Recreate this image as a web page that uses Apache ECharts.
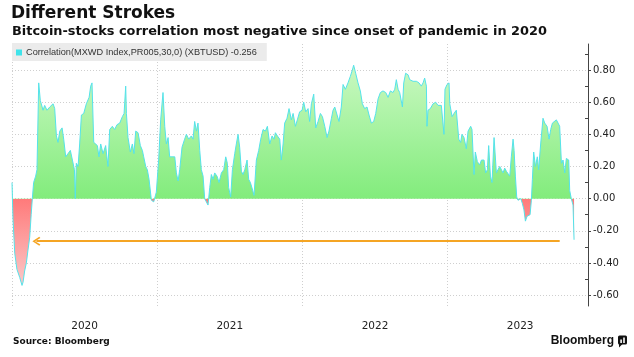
<!DOCTYPE html>
<html><head><meta charset="utf-8">
<script src="https://cdn.jsdelivr.net/npm/echarts@6/dist/echarts.min.js"></script>
<style>html,body{margin:0;padding:0;background:#fff}#c{width:634px;height:357px}</style>
</head><body><div id="c"></div>
<script>
// ---- data (decimal years, 30-day correlation) ----
const dates2020 = [2020.000,2020.003,2020.007,2020.019,2020.034,2020.053,2020.069,2020.076,2020.087,2020.099,2020.110,2020.122,2020.132,2020.140,2020.149,2020.163,2020.172,2020.184,2020.195,2020.214,2020.225,2020.241,2020.260,2020.283,2020.294,2020.306,2020.317,2020.329,2020.345,2020.356,2020.370,2020.386,2020.402,2020.416,2020.430,2020.436,2020.443,2020.455,2020.466,2020.478,2020.494,2020.512,2020.531,2020.542,2020.551,2020.563,2020.576,2020.588,2020.599,2020.611,2020.627,2020.645,2020.661,2020.673,2020.691,2020.707,2020.723,2020.742,2020.760,2020.772,2020.783,2020.788,2020.799,2020.815,2020.829,2020.840,2020.852,2020.868,2020.884,2020.898,2020.907,2020.921,2020.932,2020.944,2020.960,2020.976,2020.994];
const corr2020 = [0.10,0.00,-0.13,-0.34,-0.44,-0.49,-0.54,-0.52,-0.45,-0.40,-0.32,-0.24,-0.10,0.00,0.10,0.14,0.18,0.72,0.61,0.55,0.58,0.55,0.57,0.59,0.56,0.39,0.35,0.42,0.44,0.37,0.26,0.28,0.30,0.24,0.18,0.00,0.22,0.20,0.34,0.52,0.53,0.59,0.63,0.70,0.72,0.35,0.35,0.33,0.26,0.34,0.28,0.33,0.20,0.43,0.45,0.43,0.46,0.47,0.51,0.53,0.70,0.53,0.38,0.29,0.34,0.28,0.42,0.41,0.33,0.30,0.26,0.20,0.18,0.12,-0.01,-0.02,0.04];
const dates2021 = [2021.010,2021.024,2021.040,2021.052,2021.063,2021.075,2021.086,2021.102,2021.121,2021.132,2021.144,2021.155,2021.171,2021.189,2021.201,2021.217,2021.235,2021.247,2021.258,2021.270,2021.281,2021.293,2021.304,2021.316,2021.327,2021.339,2021.350,2021.362,2021.373,2021.385,2021.396,2021.412,2021.426,2021.442,2021.458,2021.472,2021.483,2021.492,2021.506,2021.518,2021.534,2021.545,2021.557,2021.568,2021.580,2021.591,2021.603,2021.619,2021.630,2021.642,2021.655,2021.667,2021.683,2021.699,2021.713,2021.729,2021.745,2021.759,2021.775,2021.791,2021.805,2021.814,2021.828,2021.844,2021.855,2021.867,2021.878,2021.894,2021.908,2021.924,2021.936,2021.952,2021.965,2021.981,2021.998];
const corr2021 = [0.24,0.49,0.66,0.45,0.34,0.38,0.26,0.26,0.26,0.16,0.11,0.18,0.32,0.37,0.40,0.37,0.39,0.37,0.48,0.42,0.47,0.30,0.18,0.14,0.00,-0.01,-0.04,0.07,0.15,0.12,0.16,0.14,0.10,0.16,0.18,0.26,0.22,0.07,0.01,0.18,0.28,0.34,0.40,0.32,0.17,0.15,0.18,0.24,0.12,0.10,0.06,0.02,0.24,0.30,0.37,0.43,0.42,0.45,0.34,0.39,0.37,0.41,0.39,0.37,0.24,0.34,0.47,0.50,0.56,0.49,0.53,0.45,0.49,0.54,0.55];
const dates2022 = [2022.009,2022.023,2022.039,2022.050,2022.062,2022.078,2022.092,2022.108,2022.124,2022.138,2022.154,2022.170,2022.183,2022.200,2022.211,2022.223,2022.239,2022.252,2022.268,2022.280,2022.296,2022.314,2022.330,2022.344,2022.353,2022.367,2022.383,2022.399,2022.413,2022.429,2022.445,2022.459,2022.475,2022.491,2022.505,2022.521,2022.537,2022.555,2022.574,2022.590,2022.606,2022.624,2022.636,2022.647,2022.659,2022.670,2022.689,2022.698,2022.711,2022.728,2022.739,2022.762,2022.785,2022.803,2022.819,2022.831,2022.842,2022.854,2022.858,2022.865,2022.881,2022.900,2022.918,2022.934,2022.957,2022.969,2022.975,2022.982,2022.996];
const corr2022 = [0.60,0.54,0.56,0.48,0.59,0.65,0.44,0.48,0.53,0.51,0.45,0.38,0.42,0.50,0.55,0.57,0.52,0.48,0.57,0.71,0.68,0.72,0.76,0.80,0.83,0.78,0.72,0.67,0.59,0.56,0.57,0.52,0.47,0.48,0.53,0.62,0.66,0.67,0.66,0.63,0.67,0.66,0.68,0.74,0.68,0.66,0.57,0.72,0.78,0.77,0.74,0.73,0.73,0.72,0.70,0.72,0.75,0.70,0.45,0.55,0.56,0.59,0.60,0.58,0.58,0.59,0.40,0.68,0.71];
const dates2023 = [2023.010,2023.015,2023.031,2023.044,2023.060,2023.077,2023.090,2023.099,2023.113,2023.129,2023.141,2023.159,2023.168,2023.182,2023.191,2023.205,2023.221,2023.233,2023.251,2023.262,2023.274,2023.283,2023.295,2023.306,2023.320,2023.329,2023.336,2023.347,2023.359,2023.370,2023.382,2023.393,2023.405,2023.416,2023.428,2023.439,2023.451,2023.458,2023.467,2023.476,2023.485,2023.504,2023.515,2023.526,2023.536,2023.547,2023.559,2023.568,2023.577,2023.584,2023.593,2023.605,2023.618,2023.627,2023.641,2023.657,2023.669,2023.685,2023.699,2023.710,2023.722,2023.733,2023.749,2023.761,2023.772,2023.784,2023.795,2023.807,2023.818,2023.834,2023.841,2023.852,2023.864,2023.871];
const corr2023 = [0.72,0.59,0.51,0.53,0.55,0.37,0.35,0.40,0.38,0.31,0.42,0.45,0.43,0.15,0.29,0.23,0.21,0.24,0.24,0.16,0.18,0.33,0.14,0.10,0.38,0.38,0.16,0.18,0.20,0.20,0.16,0.19,0.17,0.18,0.14,0.26,0.37,0.30,0.14,0.01,-0.01,0.00,-0.03,-0.07,-0.14,-0.11,-0.11,-0.10,-0.01,0.12,0.29,0.20,0.26,0.18,0.34,0.50,0.47,0.45,0.37,0.43,0.47,0.48,0.49,0.47,0.45,0.22,0.24,0.16,0.25,0.24,0.05,0.00,-0.04,-0.256];

const yTickValues = [-0.6,-0.4,-0.2,0,0.2,0.4,0.6,0.8];
const yMinorTickValues = [-0.5,-0.3,-0.1,0.1,0.3,0.5,0.7,0.9];
const yearBoundaries = [2020,2021,2022,2023];
const yearLabelValues = [2020.5,2021.5,2022.5,2023.5];
const arrowLevel = -0.265, arrowStart = 2023.772, arrowEnd = 2020.168;

// ---- build ----
const allDates = [].concat(dates2020, dates2021, dates2022, dates2023);
const allCorr = [].concat(corr2020, corr2021, corr2022, corr2023);
const seriesData = allDates.map((d, i) => [d, allCorr[i]]);
const vMax = Math.max.apply(null, allCorr), vMin = Math.min.apply(null, allCorr);
const zeroStop = vMax / (vMax - vMin);
const lastVal = allCorr[allCorr.length - 1];
const seriesName = 'Correlation(MXWD Index,PR005,30,0) (XBTUSD) ' + lastVal.toFixed(3);

const yMin = -0.668, yMax = 0.962;
const chevron = 'path://M5,0 L10,8.6 L8.6,10 L5,3.4 L1.4,10 L0,8.6 Z';
const gridLine = {color:'#cfcfcf', type:[1,2], width:1};

const chart = echarts.init(document.getElementById('c'), null, {renderer:'canvas'});
chart.setOption({
  animation:false,
  backgroundColor:'#ffffff',
  grid:{left:12, right:46, top:44, bottom:51, containLabel:false},
  legend:{
    left:12, top:43, padding:[5,10,4,4], backgroundColor:'#ebebeb',
    icon:'rect', itemWidth:6, itemHeight:6, itemGap:0, selectedMode:false,
    textStyle:{fontSize:9.2, color:'#333', fontFamily:'Liberation Sans', padding:[0,0,0,-1]},
    data:[{name:seriesName, itemStyle:{color:'#3fe3ea'}}]
  },
  xAxis:{
    type:'value', min:2020, max:2023.967,
    axisLine:{show:false},
    axisTick:{show:false, customValues:yearBoundaries},
    axisLabel:{customValues:yearLabelValues, formatter:v=>String(Math.floor(v)), color:'#222', fontSize:10.5, fontFamily:'DejaVu Sans', margin:15},
    splitLine:{show:true, lineStyle:gridLine}
  },
  yAxis:[{
    type:'value', position:'right', min:yMin, max:yMax,
    axisLine:{show:true, lineStyle:{color:'#444', width:1}},
    axisTick:{show:true, customValues:yTickValues, length:3, inside:false, lineStyle:{color:'#444'}},
    axisLabel:{customValues:yTickValues, formatter:v=>v.toFixed(2), color:'#222', fontSize:10, fontFamily:'DejaVu Sans', margin:5},
    splitLine:{show:true, lineStyle:gridLine}
  },{
    type:'value', position:'right', min:yMin, max:yMax,
    axisLine:{show:false},
    axisTick:{show:true, customValues:yMinorTickValues, length:3, inside:true, lineStyle:{color:'#444'}},
    axisLabel:{show:false}, splitLine:{show:false}
  }],
  series:[{
    type:'line', name:seriesName, data:seriesData, yAxisIndex:0,
    showSymbol:false, symbol:'none', smooth:false,
    lineStyle:{color:'#55e3ea', width:1},
    itemStyle:{color:'#3fe3ea'},
    areaStyle:{opacity:1, color:new echarts.graphic.LinearGradient(0,0,0,1,[
      {offset:0, color:'#c9f8c1'},
      {offset:zeroStop, color:'#82ec7c'},
      {offset:zeroStop, color:'#ff7a7a'},
      {offset:1, color:'#fbc8c8'}
    ])},
    markLine:{
      silent:true, animation:false,
      symbol:['none', chevron], symbolSize:[9,8],
      label:{show:false},
      lineStyle:{color:'#f5a524', width:2, type:'solid'},
      data:[[{coord:[arrowStart, arrowLevel]},{coord:[arrowEnd, arrowLevel]}]]
    }
  }],
  graphic:[
    {type:'text', x:11, y:13.5, style:{text:'Different Strokes', font:'bold 17px "DejaVu Sans"', fill:'#111', verticalAlign:'middle'}},
    {type:'text', x:12, y:32, style:{text:'Bitcoin-stocks correlation most negative since onset of pandemic in 2020', font:'bold 12.9px "DejaVu Sans"', fill:'#111', verticalAlign:'middle'}},
    {type:'text', x:13, y:342, style:{text:'Source: Bloomberg', font:'bold 9px "DejaVu Sans"', fill:'#111', verticalAlign:'middle'}},
    {type:'text', x:614, y:341, style:{text:'Bloomberg', font:'bold 12px "Liberation Sans"', fill:'#111', align:'right', verticalAlign:'middle'}},
    {type:'rect', shape:{x:618, y:335.5, width:9, height:9, r:1.5}, style:{fill:'#111'}},
    {type:'polygon', shape:{points:[[619,344],[622.5,344],[619,347.5]]}, style:{fill:'#111'}},
    {type:'rect', shape:{x:620.3, y:339.5, width:1.6, height:3.5}, style:{fill:'#fff'}},
    {type:'rect', shape:{x:623.2, y:337.5, width:1.6, height:5.5}, style:{fill:'#fff'}}
  ]
});
</script></body></html>
